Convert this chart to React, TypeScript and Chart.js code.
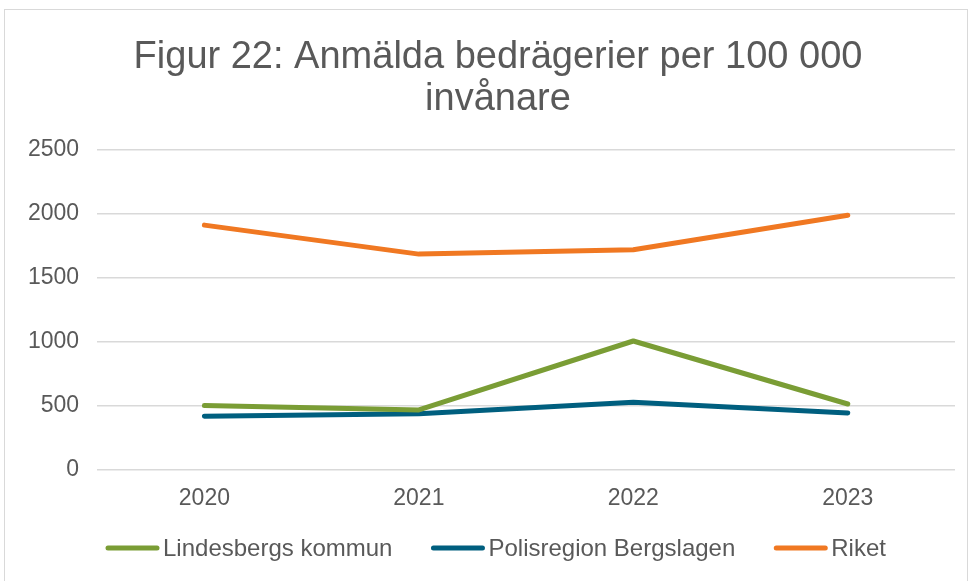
import React, { useEffect, useRef } from "react";
import { Chart, registerables } from "chart.js";

Chart.register(...registerables);

const titleLines = ["Figur 22: Anmälda bedrägerier per 100 000", "invånare"];
const years = ["2020", "2021", "2022", "2023"];
const lindesberg = [500, 465, 1005, 512];
const polisregion = [416, 435, 525, 442];
const riket = [1912, 1685, 1719, 1990];
const seriesNames = ["Lindesbergs kommun", "Polisregion Bergslagen", "Riket"];
const seriesColors = ["#7A9D35", "#005F7F", "#F07822"];
const yMin = 0;
const yMax = 2500;
const yStep = 500;

const FONT = "'Liberation Sans', Arial, sans-serif";
const TEXT = "#595959";

const titlePlugin = {
  id: "customTitle",
  afterDraw(chart: any) {
    const ctx = chart.ctx;
    ctx.save();
    ctx.fillStyle = TEXT;
    ctx.font = `38px ${FONT}`;
    ctx.textAlign = "center";
    ctx.textBaseline = "alphabetic";
    const cx = 493;
    ctx.fillText(titleLines[0], cx, 58);
    ctx.fillText(titleLines[1], cx, 100);
    ctx.restore();
  },
};

const legendPlugin = {
  id: "customLegend",
  afterDraw(chart: any) {
    const ctx = chart.ctx;
    ctx.save();
    ctx.font = `24px ${FONT}`;
    const lineW = 55;
    const gap = 3;
    const itemGap = 38;
    const ds = chart.data.datasets;
    const widths = ds.map((d: any) => ctx.measureText(d.label).width);
    let x = 100;
    const y = 538;
    ds.forEach((d: any, i: number) => {
      ctx.strokeStyle = d.borderColor;
      ctx.lineWidth = 5;
      ctx.lineCap = "round";
      ctx.beginPath();
      ctx.moveTo(x + 3, y);
      ctx.lineTo(x + lineW - 3, y);
      ctx.stroke();
      ctx.fillStyle = TEXT;
      ctx.textBaseline = "middle";
      ctx.textAlign = "left";
      ctx.fillText(d.label, x + lineW + gap, y + 1);
      x += lineW + gap + widths[i] + itemGap;
    });
    ctx.restore();
  },
};

function ChartView() {
  const ref = useRef<HTMLCanvasElement>(null);
  useEffect(() => {
    if (!ref.current) return;
    const data = [lindesberg, polisregion, riket];
    const chart = new Chart(ref.current, {
      type: "line",
      data: {
        labels: years,
        datasets: data.map((vals, i) => ({
          label: seriesNames[i],
          data: vals,
          borderColor: seriesColors[i],
          backgroundColor: seriesColors[i],
          borderWidth: 5,
          borderCapStyle: "round" as const,
          borderJoinStyle: "round" as const,
          pointRadius: 0,
          pointHoverRadius: 0,
          tension: 0,
          fill: false,
        })),
      },
      options: {
        animation: false,
        responsive: false,
        maintainAspectRatio: false,
        layout: { padding: { top: 140, left: 5, right: 12, bottom: 55 } },
        plugins: {
          legend: { display: false },
          title: { display: false },
          tooltip: { enabled: false },
        },
        scales: {
          x: {
            type: "category",
            offset: true,
            grid: { display: false, drawTicks: false },
            border: { display: false },
            ticks: {
              color: TEXT,
              font: { family: FONT, size: 23 },
              padding: 15,
            },
          },
          y: {
            min: yMin,
            max: yMax,
            grid: { color: "#D9D9D9", lineWidth: 1.5, drawTicks: false },
            border: { display: false },
            ticks: {
              stepSize: yStep,
              color: TEXT,
              font: { family: FONT, size: 23 },
              padding: 18,
              callback: (v: any) => String(v),
            },
          },
        },
      },
      plugins: [titlePlugin, legendPlugin],
    });
    return () => chart.destroy();
  }, []);
  return <canvas ref={ref} width={962} height={572} style={{ display: "block" }} />;
}

export default function App() {
  return (
    <div
      style={{
        position: "fixed",
        left: 4,
        top: 9,
        width: 962,
        height: 580,
        border: "1px solid #D9D9D9",
        background: "#fff",
        overflow: "hidden",
      }}
    >
      <ChartView />
    </div>
  );
}
